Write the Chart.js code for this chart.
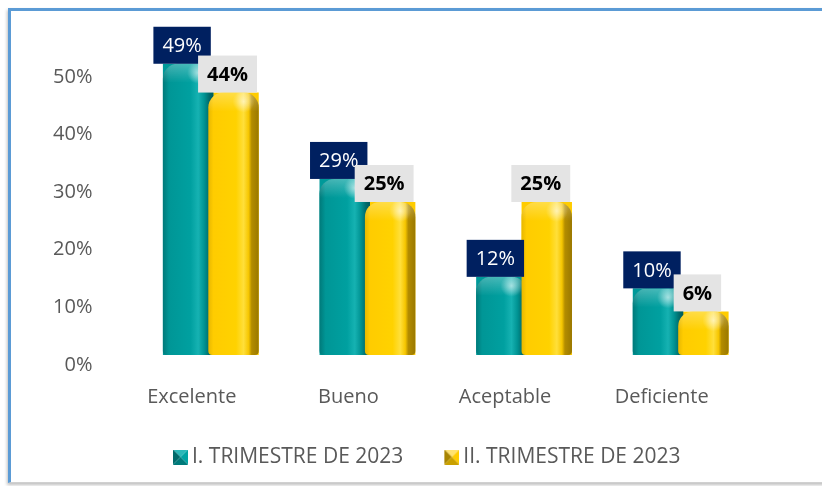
<!DOCTYPE html>
<html lang="es">
<head>
<meta charset="utf-8">
<title>Evaluación por trimestre 2023</title>
<script src="https://cdn.jsdelivr.net/npm/chart.js@4.4.1/dist/chart.umd.min.js"></script>
<style>
	html, body { margin: 0; padding: 0; background: #fff; overflow: hidden; }
	#wrap { position: relative; width: 822px; height: 486px; overflow: hidden; }
	#frame {
		position: absolute; left: 8px; top: 8px; width: 840px; height: 475px; box-sizing: border-box;
		border-top: 3px solid #5b9bd5; border-left: 3px solid #5b9bd5; border-bottom: 1px solid #d0d0d0;
		box-shadow: -1px 2px 3px rgba(0, 0, 0, 0.25);
	}
	canvas { position: absolute; left: 0; top: 0; }
</style>
</head>
<body>
<div id="wrap">
	<div id="frame"></div>
	<canvas id="chart" width="822" height="486"></canvas>
</div>
<script>
// ── Data ────────────────────────────────────────────────────────────────────

const CATEGORIES = ['Excelente', 'Bueno', 'Aceptable', 'Deficiente']
const SERIES_NAMES = ['I. TRIMESTRE DE 2023', 'II. TRIMESTRE DE 2023']
const TRIM_1 = [0.49, 0.29, 0.12, 0.1]
const TRIM_2 = [0.44, 0.25, 0.25, 0.06]
const Y_TICKS = [0, 0.1, 0.2, 0.3, 0.4, 0.5]

// ── Look ────────────────────────────────────────────────────────────────────

const FONT = "'Open Sans', 'Noto Sans', sans-serif"
const TEXT_GRAY = '#595959'

const SHADES = [
	{
		base: '#009999',
		stops: [[0, '#007a7a'], [0.12, '#009696'], [0.55, '#00a0a0'], [0.7, '#16b2b2'], [0.82, '#009393'], [0.92, '#006b6b'], [1, '#005a5a']],
		bevel: ['#2ab8b8', '#006a6a', '#00a3a3', '#007a7a'],
		label: { bg: '#002060', color: '#ffffff', weight: 'normal' },
	},
	{
		base: '#ffcc00',
		stops: [[0, '#e8b800'], [0.1, '#ffcc00'], [0.55, '#ffd200'], [0.7, '#ffdf3a'], [0.8, '#f6c600'], [0.86, '#b38c00'], [1, '#9a7800']],
		bevel: ['#ffe270', '#a88400', '#ffcc00', '#c9a000'],
		label: { bg: '#e4e4e4', color: '#000000', weight: 'bold' },
	},
]

function pct(v) {
	return Math.round(v * 100) + '%'
}

// bevelled square used as legend marker; drawn at the right end of a wider
// transparent canvas so the marker sits close to its text
function bevelMarker(cols) {
	const s = 15
	const pad = 14
	const c = document.createElement('canvas')
	c.width = s + pad
	c.height = s
	const g = c.getContext('2d')
	g.translate(pad, 0)
	const tri = (pts, col) => {
		g.beginPath()
		g.moveTo(pts[0][0], pts[0][1])
		pts.slice(1).forEach(p => g.lineTo(p[0], p[1]))
		g.closePath()
		g.fillStyle = col
		g.fill()
	}
	const m = s / 2
	tri([[0, 0], [s, 0], [m, m]], cols[0])
	tri([[0, 0], [0, s], [m, m]], cols[1])
	tri([[s, 0], [s, s], [m, m]], cols[2])
	tri([[0, s], [s, s], [m, m]], cols[3])
	return c
}

function barPath(ctx, l, t, r, b, rt, rb) {
	ctx.beginPath()
	ctx.moveTo(l, b - rb)
	ctx.arcTo(l, t, r, t, rt)
	ctx.arcTo(r, t, r, b, rt)
	ctx.arcTo(r, b, l, b, rb)
	ctx.arcTo(l, b, l, t, rb)
	ctx.closePath()
}

// ── Plugins ─────────────────────────────────────────────────────────────────

// shade each bar as a cylinder, using the element geometry from the library
const cylinderPlugin = {
	id: 'cylinder',
	afterDatasetsDraw(chart) {
		const ctx = chart.ctx
		chart.data.datasets.forEach((ds, di) => {
			const shade = SHADES[di]
			chart.getDatasetMeta(di).data.forEach(el => {
				const { x, y, base, width } = el.getProps(['x', 'y', 'base', 'width'], true)
				const l = x - width / 2
				const r = x + width / 2
				const rt = Math.min(15, (base - y) / 2)
				const grad = ctx.createLinearGradient(l, 0, r, 0)
				shade.stops.forEach(s => grad.addColorStop(s[0], s[1]))
				ctx.save()
				barPath(ctx, l, y, r, base, rt, 4)
				ctx.fillStyle = grad
				ctx.fill()
				ctx.clip()
				// lighter cap
				const cap = ctx.createLinearGradient(0, y, 0, y + rt + 4)
				cap.addColorStop(0, 'rgba(255,255,255,0.28)')
				cap.addColorStop(1, 'rgba(255,255,255,0)')
				ctx.fillStyle = cap
				ctx.fillRect(l, y, width, rt + 4)
				const hx = r - width * 0.3
				const hy = y + 9
				const glow = ctx.createRadialGradient(hx, hy, 0, hx, hy, 11)
				glow.addColorStop(0, 'rgba(255,255,255,0.55)')
				glow.addColorStop(1, 'rgba(255,255,255,0)')
				ctx.fillStyle = glow
				ctx.fillRect(l, y, width, 24)
				ctx.restore()
			})
		})
	},
}

// boxed value labels sitting on top of each bar
const boxLabelPlugin = {
	id: 'boxLabels',
	afterDatasetsDraw(chart) {
		const ctx = chart.ctx
		chart.data.datasets.forEach((ds, di) => {
			const st = SHADES[di].label
			ctx.save()
			ctx.font = `${st.weight} 20px ${FONT}`
			ctx.textAlign = 'center'
			ctx.textBaseline = 'middle'
			chart.getDatasetMeta(di).data.forEach((el, i) => {
				const txt = pct(ds.data[i])
				const w = ctx.measureText(txt).width + 18
				const h = 37
				const cx = el.x - 6
				ctx.fillStyle = st.bg
				ctx.fillRect(cx - w / 2, el.y - h, w, h)
				ctx.fillStyle = st.color
				ctx.fillText(txt, cx, el.y - h / 2 + 1)
			})
			ctx.restore()
		})
	},
}

// ── Chart ───────────────────────────────────────────────────────────────────

const markers = SHADES.map(s => bevelMarker(s.bevel))

const chart = new Chart(document.getElementById('chart'), {
	type: 'bar',
	data: {
		labels: CATEGORIES,
		datasets: [
			{ label: SERIES_NAMES[0], data: TRIM_1, backgroundColor: SHADES[0].base, pointStyle: markers[0] },
			{ label: SERIES_NAMES[1], data: TRIM_2, backgroundColor: SHADES[1].base, pointStyle: markers[1] },
		],
	},
	options: {
		responsive: false,
		devicePixelRatio: 1,
		animation: false,
		categoryPercentage: 0.58,
		barPercentage: 1.11,
		base: -0.0157,
		layout: { padding: { top: 58, left: 24, right: 0, bottom: 8.5 } },
		scales: {
			x: {
				grid: { display: false, drawTicks: false },
				border: { display: false },
				ticks: { color: TEXT_GRAY, font: { family: FONT, size: 20 }, padding: 30, labelOffset: -19 },
				afterFit: s => { s.height = 58 },
			},
			y: {
				min: -0.0157,
				max: 0.5,
				grid: { display: false, drawTicks: false },
				border: { display: false },
				afterBuildTicks: s => { s.ticks = Y_TICKS.map(v => ({ value: v })) },
				ticks: { color: TEXT_GRAY, font: { family: FONT, size: 20 }, padding: 40, labelOffset: 19, callback: v => pct(v) },
				afterFit: s => { s.width = 108.5 },
			},
			// empty right-hand gutter so the plot ends where the original does
			gutter: {
				type: 'linear',
				position: 'right',
				grid: { display: false, drawTicks: false },
				border: { display: false },
				ticks: { display: false },
				afterFit: s => { s.width = 63 },
			},
		},
		plugins: {
			legend: {
				position: 'bottom',
				labels: {
					usePointStyle: true,
					pointStyleWidth: 16,
					boxHeight: 15,
					padding: 33.5,
					color: TEXT_GRAY,
					font: { family: FONT, size: 21 },
				},
			},
			tooltip: { enabled: false },
		},
	},
	plugins: [cylinderPlugin, boxLabelPlugin],
})
</script>
</body>
</html>
